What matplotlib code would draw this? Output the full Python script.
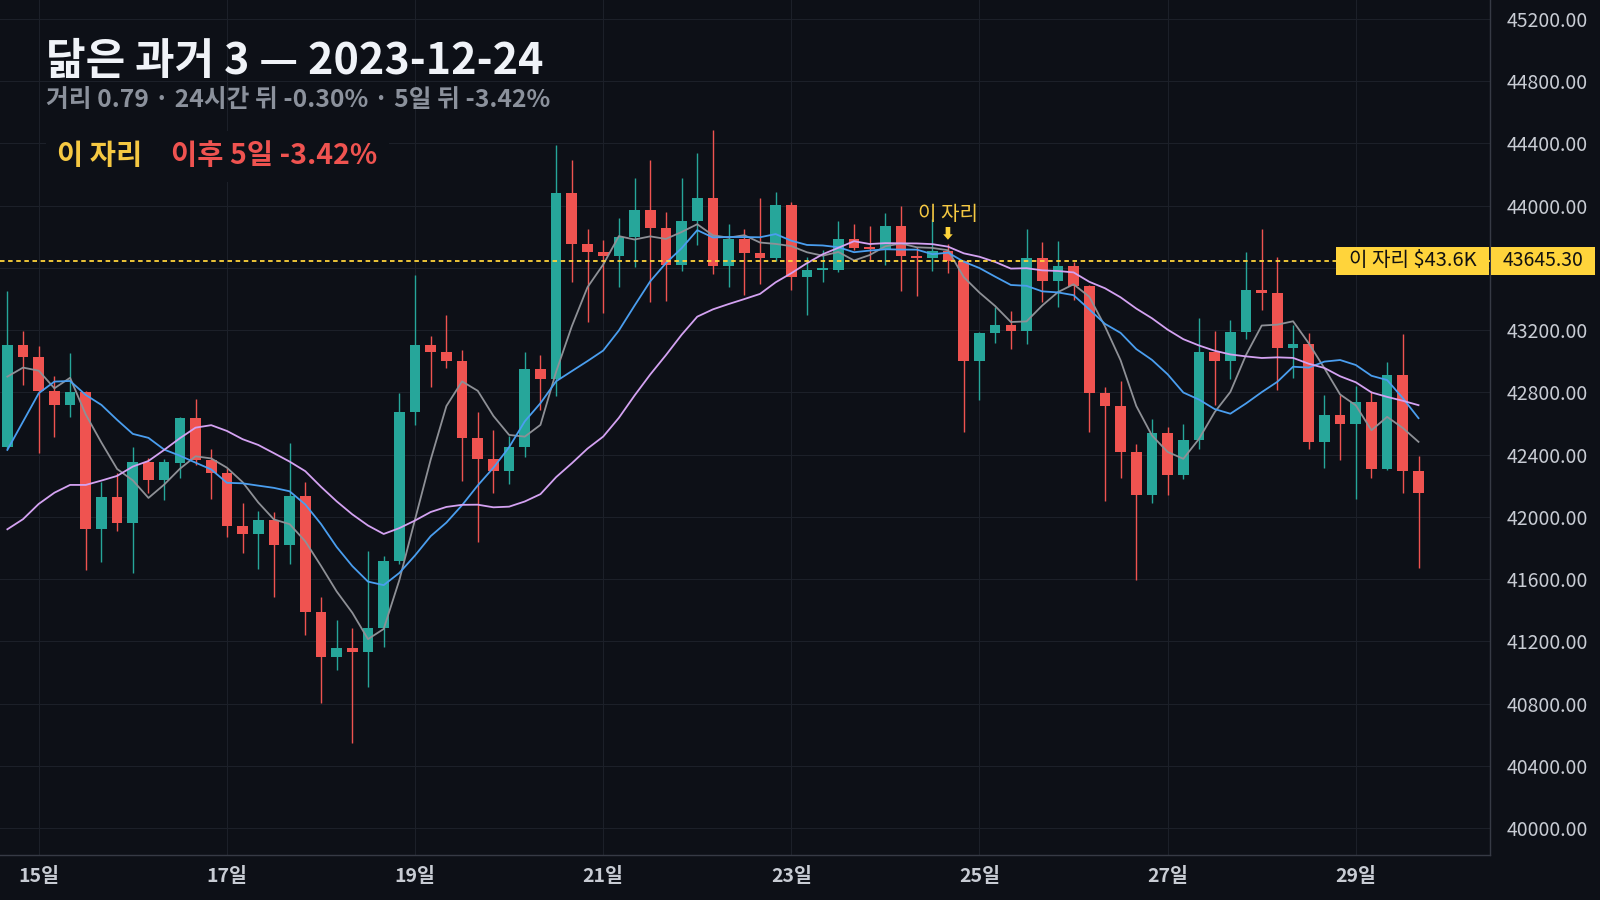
import matplotlib
matplotlib.use("Agg")
import matplotlib.pyplot as plt
from matplotlib.patches import Rectangle
from matplotlib.lines import Line2D
import numpy as np
import pandas as pd

# 4시간봉 OHLC (2023-12-14 16:00 ~ 2023-12-29 16:00)
opens = [42452, 43106, 43030, 42812, 42720, 42804, 41925, 42129, 41964, 42354,
         42240, 42349, 42636, 42366, 42285, 41944, 41891, 41981, 41820, 42135,
         41392, 41103, 41159, 41135, 41287, 41718, 42675, 43106, 43060, 43005,
         42510, 42373, 42298, 42450, 42951, 42887, 44082, 43757, 43705, 43679,
         43800, 43973, 43859, 43622, 43902, 44050, 43615, 43787, 43699, 43667,
         44005, 43545, 43585, 43590, 43787, 43731, 43722, 43870, 43679, 43665,
         43710, 43645.3, 43005, 43183, 43234, 43197, 43665, 43514, 43613, 43487,
         42799, 42716, 42420, 42144, 42540, 42270, 42495, 43060, 43003, 43189,
         43459, 43440, 43088, 43112, 42482, 42656, 42598, 42739, 42311, 42913,
         42298]
highs = [43453, 43196, 43100, 42906, 43054, 42812, 42227, 42281, 42450, 42378,
         42373, 42645, 42758, 42437, 42313, 42090, 42041, 42032, 42478, 42227,
         41484, 41339, 41287, 41782, 41750, 42797, 43555, 43164, 43298, 43074,
         42673, 42560, 42521, 43060, 43041, 44391, 44294, 43851, 43780, 43922,
         44177, 44294, 43960, 44177, 44339, 44487, 43883, 43851, 44050, 44089,
         44024, 43669, 43716, 43902, 43883, 43870, 43954, 43999, 43737, 43915,
         43755, 43650, 43190, 43352, 43324, 43851, 43767, 43774, 43639, 43490,
         42836, 42874, 42469, 42630, 42579, 42598, 43279, 43196, 43266, 43703,
         43851, 43671, 43234, 43183, 42784, 42784, 42842, 42810, 42996, 43176,
         42392]
lows = [42440, 42849, 42410, 42516, 42645, 41660, 41713, 41912, 41639, 42157,
        42110, 42253, 42336, 42114, 41874, 41771, 41666, 41486, 41698, 41242,
        40807, 41017, 40548, 40910, 41167, 41700, 42593, 42838, 42960, 42234,
        41840, 42153, 42214, 42388, 42688, 42778, 43510, 43255, 43313, 43480,
        43609, 43384, 43390, 43583, 43748, 43564, 43480, 43427, 43500, 43647,
        43461, 43300, 43512, 43577, 43716, 43652, 43622, 43455, 43423, 43583,
        43570, 42549, 42752, 43120, 43082, 43114, 43384, 43352, 43395, 42549,
        42105, 42253, 41595, 42088, 42142, 42245, 42437, 42720, 42887, 43144,
        43330, 42816, 42895, 42437, 42317, 42367, 42116, 42253, 42304, 42157,
        41674]
closes = [43106, 43030, 42812, 42720, 42804, 41925, 42129, 41964, 42354, 42240,
          42354, 42636, 42366, 42285, 41944, 41891, 41981, 41820, 42135, 41392,
          41103, 41159, 41135, 41287, 41718, 42675, 43106, 43060, 43005, 42510,
          42373, 42298, 42450, 42951, 42887, 44082, 43757, 43705, 43679, 43800,
          43973, 43859, 43622, 43902, 44050, 43615, 43787, 43699, 43667, 44005,
          43545, 43588, 43590, 43787, 43731, 43720, 43870, 43679, 43665, 43710,
          43645.3, 43005, 43183, 43234, 43197, 43665, 43514, 43613, 43487, 42799,
          42716, 42420, 42144, 42540, 42270, 42495, 43060, 43003, 43189, 43459,
          43440, 43088, 43112, 42482, 42656, 42598, 42739, 42311, 42913, 42298,
          42153]

# 이동평균 앞부분 (창 이전 데이터 때문에 그림에서 읽은 값)
ma5_head = [42902, 42960, 42940, 42827]
ma10_head = [42431, 42613, 42795, 42870, 42874, 42784, 42720, 42624, 42534]
ma20_head = [41921, 41986, 42084, 42156, 42206, 42206, 42234, 42264, 42324, 42360,
             42431, 42506, 42574, 42590, 42553, 42500, 42463, 42410, 42356]

marker_idx = 60
marker_price = 43645.30
title = "닮은 과거 3 — 2023-12-24"
subtitle = "거리 0.79 · 24시간 뒤 -0.30% · 5일 뒤 -3.42%"
legend_labels = ["이 자리", "이후 5일 -3.42%"]

bg = "#0d1017"
grid_c = "#1c2029"
up_c = "#26a69a"
down_c = "#ef5350"
yellow = "#ffd43b"
gold = "#f5c842"
tick_c = "#c8ccd4"

plt.rcParams['font.family'] = ['Noto Sans CJK KR', 'DejaVu Sans']

dates = pd.date_range("2023-12-14 16:00", periods=len(closes), freq="4h")
x = np.arange(len(closes))
o = np.array(opens, dtype=float)
h = np.array(highs, dtype=float)
l = np.array(lows, dtype=float)
c = np.array(closes, dtype=float)

cs = pd.Series(c)
ma5 = cs.rolling(5).mean().values
ma5[:len(ma5_head)] = ma5_head
ma10 = cs.rolling(10).mean().values
ma10[:len(ma10_head)] = ma10_head
ma20 = cs.rolling(20).mean().values
ma20[:len(ma20_head)] = ma20_head

fig = plt.figure(figsize=(16, 9), dpi=100, facecolor=bg)
ax = fig.add_axes([0, 45 / 900, 1490 / 1600, 855 / 900])
ax.set_facecolor(bg)

colors = [up_c if cc >= oo else down_c for oo, cc in zip(o, c)]
ax.vlines(x, l, h, colors=colors, linewidth=1.0, zorder=2)
body = np.maximum(np.abs(c - o), 12)
ax.bar(x, body, bottom=np.minimum(o, c), width=0.68, color=colors, linewidth=0, zorder=2)

ax.plot(x, ma5, color="#8e9096", lw=1.3, zorder=3)
ax.plot(x, ma10, color="#4a9eef", lw=1.3, zorder=3)
ax.plot(x, ma20, color="#d4a2f2", lw=1.3, zorder=3)

ax.axhline(marker_price, color=yellow, lw=1.3, ls=(0, (2.5, 2)), zorder=4)

ax.set_xlim(-0.47, 94.56)
ax.set_ylim(39828, 45322)

# x축: 홀수 날짜 0시
tick_pos = [i for i, d in enumerate(dates) if d.hour == 0 and d.day % 2 == 1]
ax.set_xticks(tick_pos)
ax.set_xticklabels([f"{dates[i].day}일" for i in tick_pos], fontweight="bold")
yt = np.arange(40000, 45201, 400)
ax.set_yticks(yt)
# 가격 태그에 가려지는 눈금은 글자 없이
ax.set_yticklabels(["" if abs(v - marker_price) < 200 else f"{v:.2f}" for v in yt])
ax.yaxis.tick_right()
ax.tick_params(axis="y", length=0, pad=12, labelsize=14, labelcolor=tick_c)
ax.tick_params(axis="x", length=0, pad=9, labelsize=14, labelcolor=tick_c)
ax.grid(True, color=grid_c, lw=0.8)
ax.set_axisbelow(True)
for s in ["top", "left"]:
    ax.spines[s].set_visible(False)
for s in ["bottom", "right"]:
    ax.spines[s].set_color("#363a45")
    ax.spines[s].set_linewidth(1.0)

# 오른쪽 가격 태그
tr = ax.get_yaxis_transform()
hh = 180
ax.add_patch(Rectangle((1336 / 1490, marker_price - hh / 2), 153 / 1490, hh,
                       transform=tr, clip_on=False, fc=yellow, ec="none", zorder=10))
ax.text(1412.5 / 1490, marker_price, f"이 자리 ${marker_price/1000:.1f}K", transform=tr,
        ha="center", va="center", fontsize=14.5, color="#111111", zorder=11)
ax.add_patch(Rectangle((1491 / 1490, marker_price - hh / 2), 104 / 1490, hh,
                       transform=tr, clip_on=False, fc=yellow, ec="none", zorder=10))
ax.text(1543 / 1490, marker_price, f"{marker_price:.2f}", transform=tr,
        ha="center", va="center", fontsize=14, color="#111111", zorder=11, clip_on=False)

# 이 자리 표시
ax.annotate("⬇", xy=(marker_idx, highs[marker_idx]), xytext=(0, 2), textcoords="offset points",
            ha="center", va="bottom", fontsize=10, color=yellow, zorder=6)
ax.annotate("이 자리", xy=(marker_idx, highs[marker_idx]), xytext=(0, 17.5), textcoords="offset points",
            ha="center", va="baseline", fontsize=14.5, color=gold, zorder=6)

# 제목
fig.text(46 / 1600, 1 - 74 / 900, title, fontsize=31, fontweight="bold", color="#f0f3f8", va="baseline")
fig.text(46 / 1600, 1 - 107 / 900, subtitle, fontsize=17.8, fontweight="bold", color="#8b919c", va="baseline")

hd = [Line2D([], [], lw=0), Line2D([], [], lw=0)]
leg = ax.legend(hd, legend_labels, loc="upper left", bbox_to_anchor=(46 / 1490, 1 - 131 / 855),
                ncol=2, handlelength=0, handletextpad=0, columnspacing=1.0,
                frameon=True, facecolor=bg, edgecolor="none", framealpha=1, fancybox=False,
                prop={"size": 20.5, "weight": "bold"}, labelcolor=[gold, down_c], borderaxespad=0)
leg.set_zorder(7)

fig.savefig("out.png", dpi=100, facecolor=bg)
